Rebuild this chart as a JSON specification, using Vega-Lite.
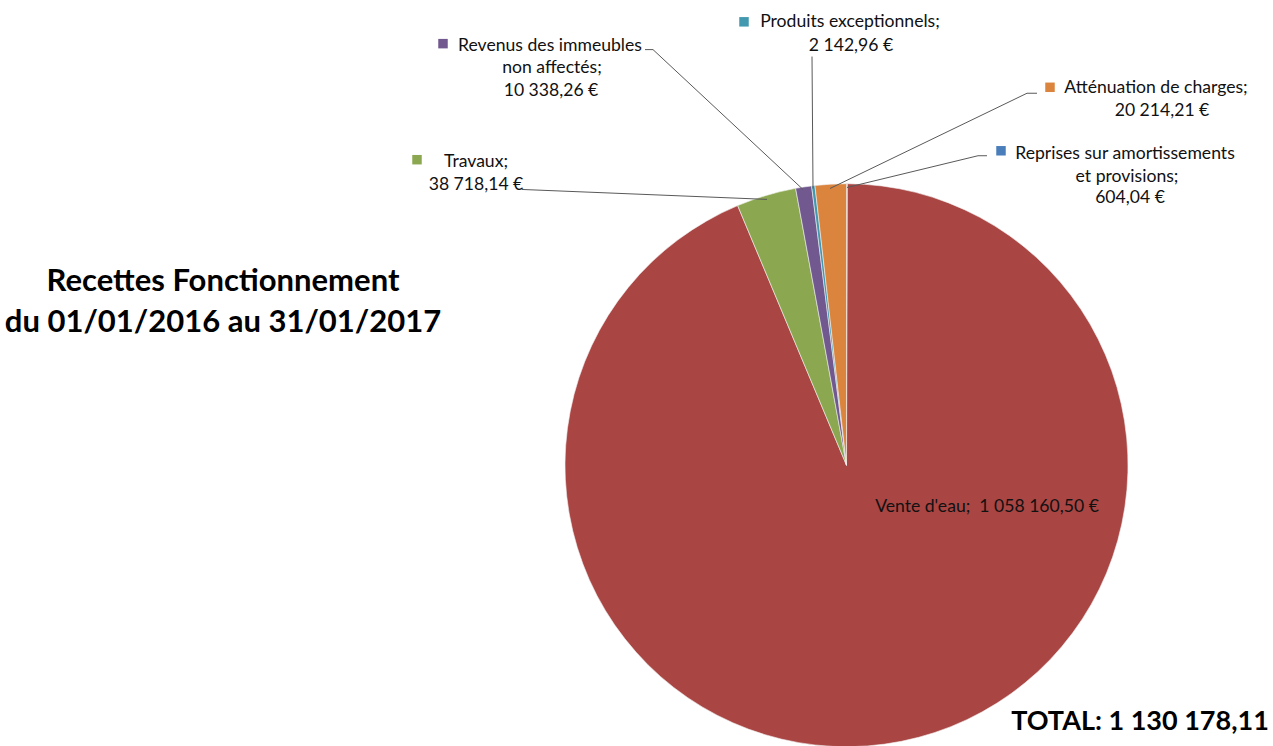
{
  "$schema": "https://vega.github.io/schema/vega-lite/v6.json",
  "width": 1273,
  "height": 746,
  "padding": 0,
  "autosize": {"type": "fit", "contains": "padding"},
  "background": "#ffffff",
  "config": {"view": {"stroke": null}},
  "datasets": {
    "slices": [
      {"idx": 1, "cat": "Reprises sur amortissements et provisions", "value": 604.04},
      {"idx": 2, "cat": "Vente d'eau", "value": 1058160.50},
      {"idx": 3, "cat": "Travaux", "value": 38718.14},
      {"idx": 4, "cat": "Revenus des immeubles non affectés", "value": 10338.26},
      {"idx": 5, "cat": "Produits exceptionnels", "value": 2142.96},
      {"idx": 6, "cat": "Atténuation de charges", "value": 20214.21}
    ],
    "labels": [
      {"t": "Revenus des immeubles", "x": 550, "y": 46},
      {"t": "non affectés;", "x": 552, "y": 69},
      {"t": "10 338,26 €", "x": 551, "y": 92},
      {"t": "Produits exceptionnels;", "x": 850, "y": 22},
      {"t": "2 142,96 €", "x": 851, "y": 46},
      {"t": "Atténuation de charges;", "x": 1156, "y": 89},
      {"t": "20 214,21 €", "x": 1162, "y": 112},
      {"t": "Reprises sur amortissements", "x": 1125, "y": 155},
      {"t": "et provisions;", "x": 1127, "y": 178},
      {"t": "604,04 €", "x": 1130, "y": 200},
      {"t": "Travaux;", "x": 476, "y": 163},
      {"t": "38 718,14 €", "x": 476, "y": 186},
      {"t": "Vente d'eau;\u00a0 1 058 160,50 €", "x": 987, "y": 511}
    ],
    "markers": [
      {"cat": "Revenus des immeubles non affectés", "x": 443, "y": 44},
      {"cat": "Produits exceptionnels", "x": 744, "y": 22},
      {"cat": "Atténuation de charges", "x": 1050, "y": 88},
      {"cat": "Reprises sur amortissements et provisions", "x": 1001, "y": 152},
      {"cat": "Travaux", "x": 417, "y": 161}
    ],
    "leaders": [
      {"x": 522, "y": 191, "x2": 767, "y2": 201},
      {"x": 645, "y": 50, "x2": 653, "y2": 50},
      {"x": 653, "y": 50, "x2": 803, "y2": 191},
      {"x": 812, "y": 57, "x2": 813, "y2": 190},
      {"x": 1037, "y": 94, "x2": 1027, "y2": 94},
      {"x": 1027, "y": 94, "x2": 830, "y2": 190},
      {"x": 987, "y": 157, "x2": 978, "y2": 157},
      {"x": 978, "y": 157, "x2": 847, "y2": 189}
    ],
    "titles": [
      {"t": "Recettes Fonctionnement", "x": 223, "y": 284},
      {"t": "du 01/01/2016 au 31/01/2017", "x": 223, "y": 326}
    ],
    "total": [
      {"t": "TOTAL: 1 130 178,11", "x": 1140, "y": 728}
    ]
  },
  "layer": [
    {
      "data": {"name": "slices"},
      "mark": {"type": "arc", "radius": 281.5, "stroke": "#f2f2f2", "strokeWidth": 0.6},
      "encoding": {
        "x": {"datum": 846.5, "type": "quantitative", "scale": {"domain": [0, 1273], "nice": false, "zero": false}, "axis": null},
        "y": {"datum": 469, "type": "quantitative", "scale": {"domain": [0, 746], "reverse": true, "nice": false, "zero": false}, "axis": null},
        "theta": {"field": "value", "type": "quantitative", "stack": true},
        "order": {"field": "idx", "type": "quantitative"},
        "color": {
          "field": "cat", "type": "nominal", "legend": null,
          "scale": {
            "domain": ["Reprises sur amortissements et provisions", "Vente d'eau", "Travaux", "Revenus des immeubles non affectés", "Produits exceptionnels", "Atténuation de charges"],
            "range": ["#4A7EBB", "#A94543", "#8BA74F", "#71588F", "#4198AF", "#DB843D"]
          }
        }
      }
    },
    {
      "data": {"name": "leaders"},
      "mark": {"type": "rule", "color": "#595959", "strokeWidth": 1},
      "encoding": {
        "x": {"field": "x", "type": "quantitative", "scale": {"domain": [0, 1273], "nice": false, "zero": false}, "axis": null},
        "y": {"field": "y", "type": "quantitative", "scale": {"domain": [0, 746], "reverse": true, "nice": false, "zero": false}, "axis": null},
        "x2": {"field": "x2"},
        "y2": {"field": "y2"}
      }
    },
    {
      "data": {"name": "markers"},
      "mark": {"type": "point", "shape": "square", "filled": true, "size": 90, "opacity": 1},
      "encoding": {
        "x": {"field": "x", "type": "quantitative", "scale": {"domain": [0, 1273], "nice": false, "zero": false}, "axis": null},
        "y": {"field": "y", "type": "quantitative", "scale": {"domain": [0, 746], "reverse": true, "nice": false, "zero": false}, "axis": null},
        "color": {"field": "cat", "type": "nominal", "legend": null}
      }
    },
    {
      "data": {"name": "labels"},
      "mark": {"type": "text", "font": "Lato", "fontSize": 17.6, "align": "center", "baseline": "middle", "color": "#111111"},
      "encoding": {
        "x": {"field": "x", "type": "quantitative", "scale": {"domain": [0, 1273], "nice": false, "zero": false}, "axis": null},
        "y": {"field": "y", "type": "quantitative", "scale": {"domain": [0, 746], "reverse": true, "nice": false, "zero": false}, "axis": null},
        "text": {"field": "t", "type": "nominal"}
      }
    },
    {
      "data": {"name": "titles"},
      "mark": {"type": "text", "font": "Lato", "fontSize": 31, "fontWeight": "bold", "align": "center", "baseline": "middle", "color": "#000000"},
      "encoding": {
        "x": {"field": "x", "type": "quantitative", "scale": {"domain": [0, 1273], "nice": false, "zero": false}, "axis": null},
        "y": {"field": "y", "type": "quantitative", "scale": {"domain": [0, 746], "reverse": true, "nice": false, "zero": false}, "axis": null},
        "text": {"field": "t", "type": "nominal"}
      }
    },
    {
      "data": {"name": "total"},
      "mark": {"type": "text", "font": "Lato", "fontSize": 27, "fontWeight": "bold", "align": "center", "baseline": "middle", "color": "#000000"},
      "encoding": {
        "x": {"field": "x", "type": "quantitative", "scale": {"domain": [0, 1273], "nice": false, "zero": false}, "axis": null},
        "y": {"field": "y", "type": "quantitative", "scale": {"domain": [0, 746], "reverse": true, "nice": false, "zero": false}, "axis": null},
        "text": {"field": "t", "type": "nominal"}
      }
    }
  ]
}
